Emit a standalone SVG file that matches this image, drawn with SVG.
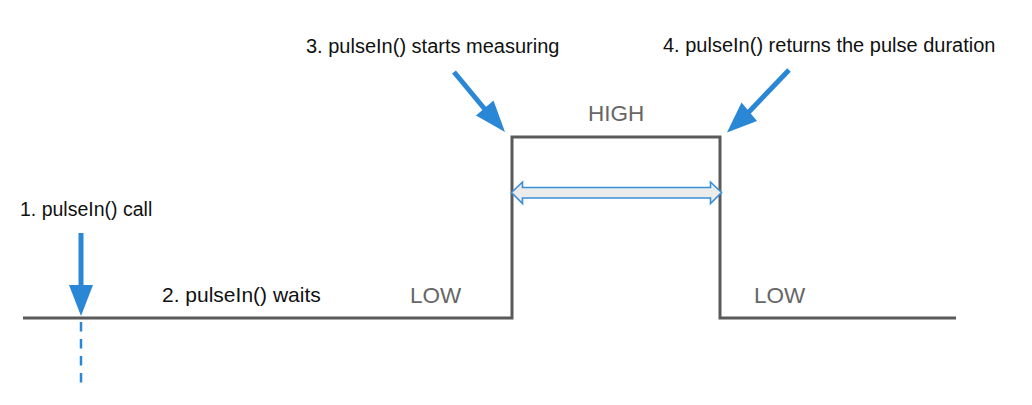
<svg xmlns="http://www.w3.org/2000/svg" width="1032" height="405" viewBox="0 0 1032 405">
<style>
.lbl{font-family:"Liberation Sans",Arial,sans-serif;font-size:20px;fill:#111}
.lvl{font-family:"Liberation Sans",Arial,sans-serif;font-size:22.5px;fill:#666}
.sig{fill:none;stroke:#5a5a5a;stroke-width:3}
.ar{fill:#2a87d6}
.arl{stroke:#2a87d6;stroke-width:5;fill:none}
</style>
<rect width="1032" height="405" fill="#fff"/>
<g id="signal">
<path class="sig" d="M23,318 H512 V137 H720 V318 H956"/>
</g>
<g id="connectors">
<g id="arrow-call">
<line class="arl" x1="81" y1="233" x2="81" y2="290"/>
<polygon class="ar" points="69,285 93,285 81,316"/>
<line x1="81" y1="322" x2="81" y2="385" stroke="#2a87d6" stroke-width="2.5" stroke-dasharray="9.5 7.5"/>
</g>
<g id="arrow-start">
<line class="arl" x1="454" y1="72" x2="488" y2="113"/>
<polygon class="ar" points="476,115.5 493.5,100.5 505,132"/>
</g>
<g id="arrow-return">
<line class="arl" x1="789" y1="70" x2="745" y2="116"/>
<polygon class="ar" points="741.5,102.5 757,121 727,132.5"/>
</g>
<g id="duration">
<polygon points="511.5,192.5 522.5,182 522.5,187.5 710.5,187.5 710.5,182 721.5,192.5 710.5,203.5 710.5,198 522.5,198 522.5,203.5" fill="#ececec" stroke="#3a8fd9" stroke-width="1.6" stroke-linejoin="miter"/>
</g>
</g>
<g id="label-call"><text class="lbl" x="20" y="216" style="font-size:19.5px">1. pulseIn() call</text></g>
<g id="label-wait"><text class="lbl" x="162" y="302" style="font-size:21px">2. pulseIn() waits</text></g>
<g id="label-start"><text class="lbl" x="306" y="53">3. pulseIn() starts measuring</text></g>
<g id="label-return"><text class="lbl" x="663" y="52">4. pulseIn() returns the pulse duration</text></g>
<g id="label-low1"><text class="lvl" x="410" y="302.5">LOW</text></g>
<g id="label-high"><text class="lvl" x="588" y="121">HIGH</text></g>
<g id="label-low2"><text class="lvl" x="754" y="303">LOW</text></g>
</svg>
